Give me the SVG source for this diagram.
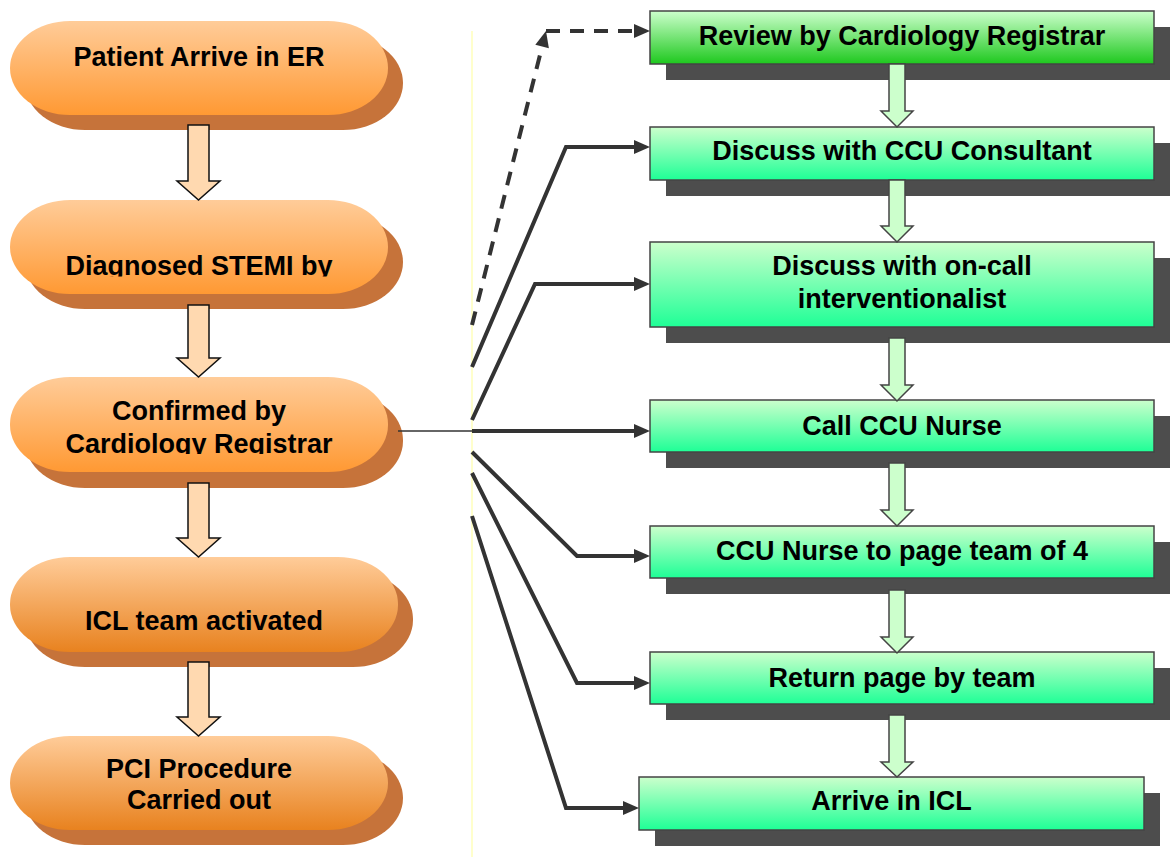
<svg xmlns="http://www.w3.org/2000/svg" width="1170" height="857" viewBox="0 0 1170 857">
  <style>
    .lbl { font-family: "Liberation Sans", Arial, sans-serif; font-weight: bold; font-size: 27px; fill: #000; text-anchor: middle; }
    .pill-shadow { fill: #c6733a; }
    .box-shadow { fill: #4d4d4d; }
    .box { stroke: #444; stroke-width: 1.5; }
    .barrow-l { fill: #ffd9b0; stroke: #111; stroke-width: 1.5; }
    .barrow-r { fill: #ccffcc; stroke: #444; stroke-width: 1.5; }
    .link { fill: none; stroke: #333; stroke-width: 4; marker-end: url(#head); }
    .dash { stroke-dasharray: 14 10; }
  </style>
  <defs>
    <linearGradient id="orangeA" x1="0" y1="0" x2="0" y2="1">
      <stop offset="0" stop-color="#ffcc99"/>
      <stop offset="1" stop-color="#ff9933"/>
    </linearGradient>
    <linearGradient id="orangeB" x1="0" y1="0" x2="0" y2="1">
      <stop offset="0" stop-color="#ffcc99"/>
      <stop offset="1" stop-color="#e8821f"/>
    </linearGradient>
    <linearGradient id="greenDark" x1="0" y1="0" x2="0" y2="1">
      <stop offset="0" stop-color="#ccffcc"/>
      <stop offset="1" stop-color="#1ec81e"/>
    </linearGradient>
    <linearGradient id="greenSpring" x1="0" y1="0" x2="0" y2="1">
      <stop offset="0" stop-color="#ccffcc"/>
      <stop offset="1" stop-color="#1eff96"/>
    </linearGradient>
    <marker id="head" markerUnits="userSpaceOnUse" markerWidth="16" markerHeight="14" refX="0" refY="7" orient="auto" overflow="visible">
      <path d="M0,0 L16,7 L0,14 Z" fill="#333" stroke="none"/>
    </marker>
    <clipPath id="clipDiag"><rect x="0" y="200" width="420" height="76.5"/></clipPath>
    <clipPath id="clipConf"><rect x="0" y="377" width="420" height="77"/></clipPath>
  </defs>

  <!-- divider between the two columns -->
  <line x1="472" y1="31" x2="472" y2="857" stroke="#ffffcc" stroke-width="2"/>

  <!-- left column: patient pathway -->
  <g id="n-arrive-er">
    <rect class="pill-shadow" x="25" y="36" width="378" height="94" rx="60" ry="47"/>
    <rect x="10" y="21" width="378" height="94" rx="60" ry="47" fill="url(#orangeA)"/>
    <text class="lbl" x="199" y="65.5">Patient Arrive in ER</text>
  </g>
  <g id="n-diagnosed">
    <rect class="pill-shadow" x="25" y="215" width="378" height="94" rx="60" ry="47"/>
    <rect x="10" y="200" width="378" height="94" rx="60" ry="47" fill="url(#orangeA)"/>
    <text class="lbl" x="199" y="275" clip-path="url(#clipDiag)">Diagnosed STEMI by</text>
  </g>
  <g id="n-confirmed">
    <rect class="pill-shadow" x="25" y="393" width="378" height="95" rx="60" ry="47"/>
    <rect x="10" y="377" width="378" height="95" rx="60" ry="47" fill="url(#orangeA)"/>
    <g clip-path="url(#clipConf)">
      <text class="lbl" x="199" y="420">Confirmed by</text>
      <text class="lbl" x="199" y="452.5">Cardiology Registrar</text>
    </g>
  </g>
  <g id="n-icl-activated">
    <rect class="pill-shadow" x="25" y="572" width="388" height="95" rx="60" ry="47"/>
    <rect x="10" y="557" width="388" height="95" rx="60" ry="47" fill="url(#orangeB)"/>
    <text class="lbl" x="204" y="630">ICL team activated</text>
  </g>
  <g id="n-pci">
    <rect class="pill-shadow" x="25" y="751" width="378" height="94" rx="60" ry="47"/>
    <rect x="10" y="736" width="378" height="94" rx="60" ry="47" fill="url(#orangeB)"/>
    <text class="lbl" x="199" y="778">PCI Procedure</text>
    <text class="lbl" x="199" y="809">Carried out</text>
  </g>

  <!-- right column: activation steps -->
  <g id="n-review">
    <rect class="box-shadow" x="666" y="27" width="504" height="53"/>
    <rect class="box" x="650" y="11" width="504" height="53" fill="url(#greenDark)"/>
    <text class="lbl" x="902" y="45">Review by Cardiology Registrar</text>
  </g>
  <g id="n-ccu-consultant">
    <rect class="box-shadow" x="666" y="143" width="504" height="53"/>
    <rect class="box" x="650" y="127" width="504" height="53" fill="url(#greenSpring)"/>
    <text class="lbl" x="902" y="160">Discuss with CCU Consultant</text>
  </g>
  <g id="n-interventionalist">
    <rect class="box-shadow" x="666" y="258" width="504" height="85"/>
    <rect class="box" x="650" y="242" width="504" height="85" fill="url(#greenSpring)"/>
    <text class="lbl" x="902" y="274.5">Discuss with on-call</text>
    <text class="lbl" x="902" y="307.5">interventionalist</text>
  </g>
  <g id="n-call-nurse">
    <rect class="box-shadow" x="666" y="416" width="504" height="52"/>
    <rect class="box" x="650" y="400" width="504" height="52" fill="url(#greenSpring)"/>
    <text class="lbl" x="902" y="435">Call CCU Nurse</text>
  </g>
  <g id="n-page-team">
    <rect class="box-shadow" x="666" y="542" width="504" height="52"/>
    <rect class="box" x="650" y="526" width="504" height="52" fill="url(#greenSpring)"/>
    <text class="lbl" x="902" y="560">CCU Nurse to page team of 4</text>
  </g>
  <g id="n-return-page">
    <rect class="box-shadow" x="666" y="668" width="504" height="52"/>
    <rect class="box" x="650" y="652" width="504" height="52" fill="url(#greenSpring)"/>
    <text class="lbl" x="902" y="687">Return page by team</text>
  </g>
  <g id="n-arrive-icl">
    <rect class="box-shadow" x="655" y="793" width="505" height="53"/>
    <rect class="box" x="639" y="777" width="505" height="53" fill="url(#greenSpring)"/>
    <text class="lbl" x="891.5" y="810">Arrive in ICL</text>
  </g>

  <g id="connectors">
    <!-- block arrows, left column -->
    <polygon class="barrow-l" points="188,125 209,125 209,181 220,181 198.5,200 177,181 188,181"/>
    <polygon class="barrow-l" points="188,305 209,305 209,358 220,358 198.5,377 177,358 188,358"/>
    <polygon class="barrow-l" points="188,483 209,483 209,538 220,538 198.5,557 177,538 188,538"/>
    <polygon class="barrow-l" points="188,662 209,662 209,717 220,717 198.5,736 177,717 188,717"/>

    <!-- block arrows, right column -->
    <polygon class="barrow-r" points="889,64 905,64 905,111 913,111 897,127 881,111 889,111"/>
    <polygon class="barrow-r" points="889,180 905,180 905,226 913,226 897,242 881,226 889,226"/>
    <polygon class="barrow-r" points="889,338 905,338 905,385 913,385 897,401 881,385 889,385"/>
    <polygon class="barrow-r" points="889,463 905,463 905,510 913,510 897,526 881,510 889,510"/>
    <polygon class="barrow-r" points="889,590 905,590 905,637 913,637 897,653 881,637 889,637"/>
    <polygon class="barrow-r" points="889,715 905,715 905,762 913,762 897,777 881,762 889,762"/>

    <!-- fan-out from the confirmation step -->
    <line x1="398" y1="431" x2="472" y2="431" stroke="#333" stroke-width="1.5"/>
    <path class="link dash" d="M472,325 L542.1,46.5"/>
    <path class="link dash" d="M546,31 L634,31"/>
    <path class="link" d="M472,367 L566,147 L634,147"/>
    <path class="link" d="M472,420 L535,284 L634,284"/>
    <path class="link" d="M472,431 L634,431"/>
    <path class="link" d="M472,452 L577,556 L634,556"/>
    <path class="link" d="M472,473 L577,683 L634,683"/>
    <path class="link" d="M472,516 L566,808 L623,808"/>
  </g>
</svg>
